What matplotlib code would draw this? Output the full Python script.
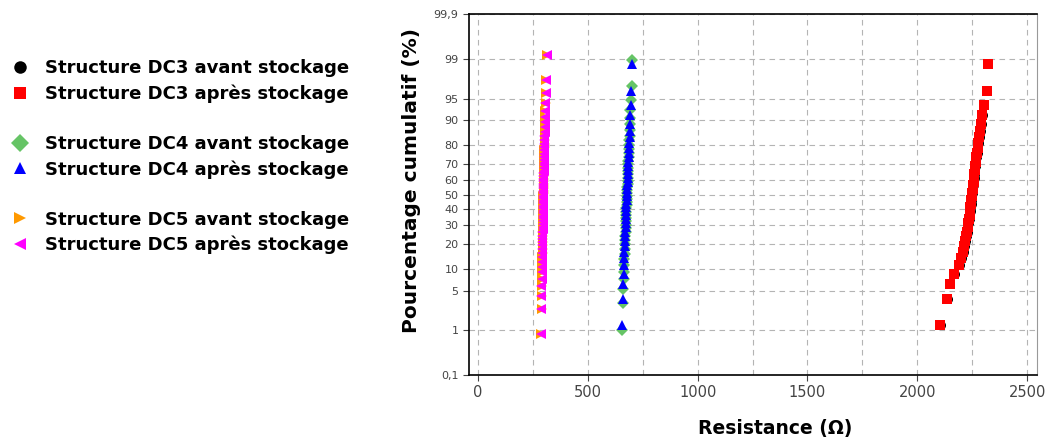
import numpy as np
import matplotlib
matplotlib.use("Agg")
import matplotlib.pyplot as plt
from matplotlib.lines import Line2D
from matplotlib.ticker import FixedLocator, FixedFormatter, MultipleLocator
from statistics import NormalDist

# resistance values (ohm), sorted
dc3_avant = [2108, 2140, 2150, 2170, 2195, 2205, 2212, 2218, 2222, 2226,
             2230, 2233, 2236, 2239, 2241, 2243, 2245, 2247, 2249, 2251,
             2253, 2255, 2257, 2259, 2261, 2263, 2265, 2267, 2269, 2272,
             2275, 2278, 2281, 2284, 2288, 2293, 2298, 2304, 2312, 2320]
dc3_apres = [2104, 2136, 2147, 2165, 2190, 2200, 2207, 2213, 2218, 2222,
             2226, 2229, 2232, 2235, 2238, 2240, 2242, 2244, 2246, 2248,
             2250, 2252, 2254, 2256, 2258, 2260, 2262, 2264, 2266, 2269,
             2272, 2275, 2278, 2282, 2286, 2290, 2296, 2305, 2316, 2323]
dc4_avant = [656, 660, 662, 664, 665, 666, 667, 668, 669, 670,
             670, 671, 672, 672, 673, 674, 674, 675, 675, 676,
             677, 677, 678, 678, 679, 679, 680, 681, 681, 682,
             682, 683, 684, 684, 685, 686, 686, 687, 688, 689,
             690, 691, 692, 693, 694, 696, 699, 701]
dc4_apres = [657, 659, 661, 663, 665, 666, 667, 668, 669, 670,
             671, 672, 673, 673, 674, 675, 676, 676, 677, 678,
             678, 679, 680, 681, 681, 682, 683, 684, 685, 686,
             687, 688, 689, 690, 691, 692, 694, 696, 697, 699]
dc5_avant = [287, 290, 291, 291, 292, 292, 293, 293, 293, 294,
             294, 294, 295, 295, 295, 295, 296, 296, 296, 296,
             297, 297, 297, 297, 297, 298, 298, 298, 298, 298,
             299, 299, 299, 299, 299, 300, 300, 300, 300, 300,
             301, 301, 301, 301, 302, 302, 302, 303, 303, 303,
             304, 304, 305, 305, 306, 307, 308, 309, 310, 312]
dc5_apres = [286, 288, 289, 289, 290, 290, 291, 291, 291, 292,
             292, 292, 293, 293, 293, 293, 294, 294, 294, 294,
             295, 295, 295, 295, 295, 296, 296, 296, 296, 296,
             297, 297, 297, 297, 297, 298, 298, 298, 298, 299,
             299, 299, 299, 300, 300, 300, 301, 301, 301, 302,
             302, 303, 303, 304, 305, 306, 307, 308, 310, 315]

labels = ["Structure DC3 avant stockage", "Structure DC3 après stockage",
          "Structure DC4 avant stockage", "Structure DC4 après stockage",
          "Structure DC5 avant stockage", "Structure DC5 après stockage"]
y_ticks = [0.1, 1, 5, 10, 20, 30, 40, 50, 60, 70, 80, 90, 95, 99, 99.9]
y_ticklabels = ["0,1", "1", "5", "10", "20", "30", "40", "50", "60", "70",
                "80", "90", "95", "99", "99,9"]
x_ticks = [0, 500, 1000, 1500, 2000, 2500]

series = [dc3_avant, dc3_apres, dc4_avant, dc4_apres, dc5_avant, dc5_apres]
markers = ["o", "s", "D", "^", ">", "<"]
msizes = [6.5, 6.5, 6.5, 7.5, 7.5, 7.5]
colors = ["#000000", "#ff0000", "#66c466", "#0000ff", "#ff9900", "#ff00ff"]

nd = NormalDist()

def fwd(p):
    p = np.clip(np.asarray(p, dtype=float), 1e-4, 100 - 1e-4)
    return np.vectorize(lambda v: nd.inv_cdf(v / 100.0), otypes=[float])(p)

def inv(z):
    z = np.asarray(z, dtype=float)
    return np.vectorize(lambda v: nd.cdf(v) * 100.0, otypes=[float])(z)

def cum_pct(vals):
    n = len(vals)
    return [(i + 0.5) / n * 100 for i in range(n)]

fig = plt.figure(figsize=(10.48, 4.43), dpi=100)
ax = fig.add_axes([0.4475, 0.1535, 0.542, 0.8145])
ax.set_yscale("function", functions=(fwd, inv))

for vals, m, ms, c in zip(series, markers, msizes, colors):
    ax.plot(sorted(vals), cum_pct(vals), linestyle="none", marker=m,
            color=c, markersize=ms, markeredgewidth=0)

ax.set_xlim(-41, 2545)
ax.set_ylim(0.1, 99.9)
ax.xaxis.set_major_locator(FixedLocator(x_ticks))
ax.xaxis.set_minor_locator(MultipleLocator(250))
ax.yaxis.set_major_locator(FixedLocator(y_ticks))
ax.yaxis.set_major_formatter(FixedFormatter(y_ticklabels))
ax.yaxis.set_minor_locator(FixedLocator([]))

ax.grid(True, which="both", axis="x", color="#b4b4b4", linestyle=(0, (5, 4)), linewidth=0.8)
ax.grid(True, which="major", axis="y", color="#b4b4b4", linestyle=(0, (5, 4)), linewidth=0.8)
ax.set_axisbelow(True)

ax.tick_params(axis="x", which="major", labelsize=10.5, colors="#444444", length=4, direction="out")
ax.tick_params(axis="x", which="minor", length=0)
ax.tick_params(axis="y", labelsize=8, colors="#444444", length=4, direction="out")
for s in ["left", "bottom", "top"]:
    ax.spines[s].set_color("black")
    ax.spines[s].set_linewidth(1.2)
ax.spines["right"].set_color("#999999")

ax.set_xlabel("Resistance (Ω)", fontsize=13.5, fontweight="bold")
ax.xaxis.set_label_coords(0.539, -0.147, transform=ax.transAxes)
ax.xaxis.label.set_verticalalignment("center")
ax.set_ylabel("Pourcentage cumulatif (%)", fontsize=14.5, fontweight="bold")
ax.yaxis.set_label_coords(-0.102, 0.54, transform=ax.transAxes)
ax.yaxis.label.set_verticalalignment("center")

# legend on the left, with blank rows between the structures
handles = []
leg_labels = []
for k, (m, c) in enumerate(zip(markers, colors)):
    handles.append(Line2D([], [], linestyle="none", marker=m, color=c,
                          markersize=9, markeredgewidth=0))
    leg_labels.append(labels[k])
    if k in (1, 3):
        handles.append(Line2D([], [], linestyle="none"))
        leg_labels.append("")

fig.legend(handles, leg_labels, loc="upper left", bbox_to_anchor=(0.005, 0.878),
           frameon=False, borderaxespad=0.0, borderpad=0.3, handlelength=1.0,
           handletextpad=0.9, labelspacing=0.39,
           prop={"weight": "bold", "size": 13})

fig.savefig("out.png", dpi=100)
